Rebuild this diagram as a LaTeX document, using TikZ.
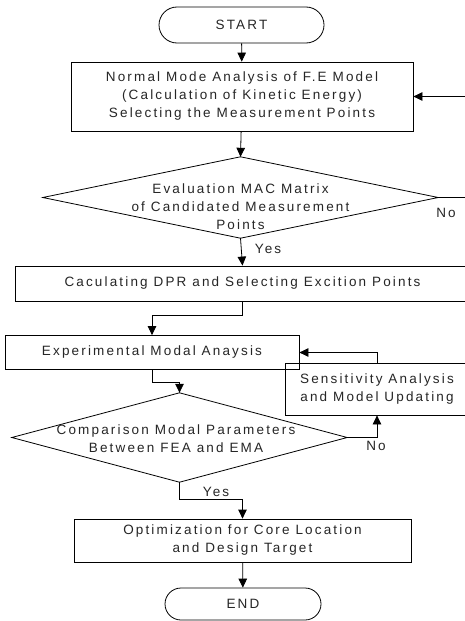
\documentclass[tikz,border=0pt]{standalone}
\usepackage{fontspec}
\setmainfont{Liberation Sans}[LetterSpace=16]
\usetikzlibrary{arrows.meta,shapes.misc}
\begin{document}
\begin{tikzpicture}[x=1pt,y=-1pt,
  every node/.style={font=\fontsize{13.5}{18}\selectfont, text=black!85, align=center, inner sep=0pt},
  box/.style={draw, line width=0.8pt, rectangle},
  term/.style={draw, line width=0.8pt, rounded rectangle},
  dia/.style={rectangle, draw=none},
  conn/.style={line width=0.8pt, -{Triangle[length=9pt,width=8.5pt]}},
  plain/.style={line width=0.8pt}]
\clip (0,0) rectangle (465,621);
\fill[white] (0,0) rectangle (465,621);
% nodes
\node[term, minimum width=165pt, minimum height=36pt] (start) at (241.5,25) {START};
\node[box, minimum width=342pt, minimum height=69pt] (b1) at (242,96.5)
  {Normal Mode Analysis of F.E Model\\(Calculation of Kinetic Energy)\\Selecting the Measurement Points};
\node[dia, minimum width=395pt, minimum height=81pt] (d1) at (240.5,197.5) {};
\draw[plain] (d1.north) -- (d1.east) -- (d1.south) -- (d1.west) -- cycle;
\node (d1t) at (240.5,207) {Evaluation MAC Matrix\\of Candidated Measurement\\Points};
\node[box, minimum width=455pt, minimum height=35pt] (b2) at (242.5,283.5)
  {Caculating DPR and Selecting Excition Points};
\node[box, minimum width=294pt, minimum height=34pt] (b3) at (152,352.5)
  {Experimental Modal Anaysis};
\node[box, minimum width=184pt, minimum height=52pt] (sens) at (377,389)
  {Sensitivity Analysis\\and Model Updating};
\node[dia, minimum width=335pt, minimum height=89pt] (d2) at (179.5,437.5) {};
\draw[plain] (d2.north) -- (d2.east) -- (d2.south) -- (d2.west) -- cycle;
\node (d2t) at (176,439) {Comparison Modal Parameters\\Between FEA and EMA};
\node[box, minimum width=337pt, minimum height=43pt] (b4) at (242.5,540.5)
  {Optimization for Core Location\\and Design Target};
\node[term, minimum width=156pt, minimum height=32pt] (end) at (243,604) {END};
% connectors
\draw[conn] (start) -- (b1);
\draw[conn] (b1) -- (d1.north);
\draw[conn] (d1.east) -- (480,197.5) |- (b1.east);
\node (no1) at (446,213) {No};
\draw[conn] (d1.south) -- (b2.north);
\node (yes1) at (268,249) {Yes};
\draw[conn] (b2.south) -- ++(0,14) -| (b3.north);
\draw[conn] (b3.south) -- ++(0,12) -| (d2.north);
\draw[conn] (d2.east) -| (sens.south);
\node (no2) at (376,446) {No};
\draw[conn] (sens.north) |- (b3.east);
\draw[conn] (d2.south) -- ++(0,17) -| (b4.north);
\node (yes2) at (216,492) {Yes};
\draw[conn] (b4) -- (end);
\end{tikzpicture}
\end{document}
